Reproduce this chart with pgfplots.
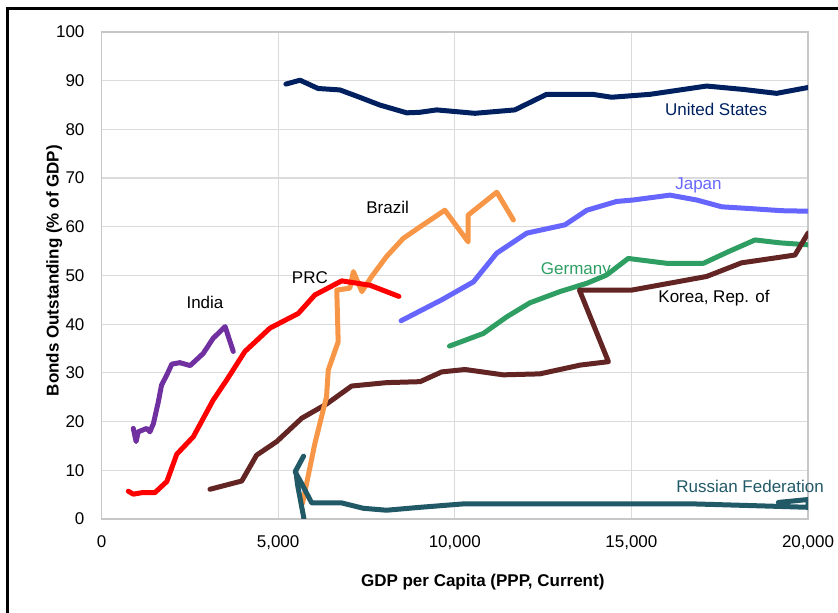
\documentclass[border=0pt]{standalone}
\usepackage{fontspec}
\setmainfont{Liberation Sans}
\usepackage{pgfplots}
\pgfplotsset{compat=1.18}

\definecolor{usblue}{RGB}{0,32,96}
\definecolor{japan}{RGB}{102,102,255}
\definecolor{germany}{RGB}{46,158,98}
\definecolor{korea}{RGB}{99,37,35}
\definecolor{brazil}{RGB}{247,150,70}
\definecolor{prc}{RGB}{255,0,0}
\definecolor{india}{RGB}{112,48,160}
\definecolor{russia}{RGB}{33,89,103}

\begin{document}
\begin{tikzpicture}
\begin{axis}[
  scale only axis, width=353.25pt, height=243.5pt,
  xmin=0, xmax=20000, ymin=0, ymax=100,
  xtick={0,5000,10000,15000,20000}, ytick={0,10,...,100},
  scaled x ticks=false,
  grid=major, grid style={draw=black!14, line width=0.6pt},
  axis line style={draw=black!22, line width=0.6pt},
  major tick length=0pt,
  tick label style={font=\fontsize{8.5}{10}\selectfont},
  /pgf/number format/assume math mode=true,
  /pgf/number format/1000 sep={,},
  xticklabel style={yshift=-5pt},
  yticklabel style={xshift=-5pt},
  xlabel={GDP per Capita (PPP, Current)},
  ylabel={Bonds Outstanding (\% of GDP)},
  label style={font=\fontsize{8.5}{10}\selectfont\bfseries},
  xlabel style={at={(axis description cs:0.5396,-0.1294)}, anchor=center},
  ylabel style={at={(axis description cs:-0.067,0.51)}, anchor=center},
  clip mode=individual,
  every axis plot/.append style={line width=2.5pt, line join=round, line cap=round, no markers},
]
% United States
\addplot[usblue] coordinates {
(5220,89.3) (5620,90.1) (6130,88.4) (6750,88.1) (7270,86.7) (7880,85.0)
(8640,83.4) (9000,83.5) (9490,84.0) (10570,83.3) (11700,84.0) (12600,87.2)
(13900,87.2) (14440,86.6) (15530,87.2) (16190,87.9) (17130,88.9) (18170,88.2)
(19110,87.4) (20000,88.6)};
% Japan
\addplot[japan] coordinates {
(8480,40.7) (9630,45.0) (10530,48.7) (11190,54.6) (12040,58.7) (13120,60.4)
(13740,63.4) (14580,65.2) (15050,65.5) (16090,66.5) (16850,65.5) (17560,64.1)
(18450,63.7) (19260,63.3) (20000,63.2)};
% Germany
\addplot[germany] coordinates {
(9850,35.5) (10810,38.1) (11470,41.5) (12130,44.4) (12980,46.7) (13740,48.4)
(14300,50.1) (14910,53.5) (16000,52.5) (17040,52.5) (17750,54.9) (18500,57.3)
(19210,56.7) (20000,56.3)};
% Korea
\addplot[korea] coordinates {
(3070,6.1) (3970,7.8) (4390,13.1) (4960,15.9) (5670,20.7) (6370,23.6)
(7080,27.3) (8070,28.0) (9020,28.2) (9630,30.2) (10290,30.7) (11370,29.6)
(12410,29.8) (13550,31.6) (14350,32.3) (13530,47.0) (15010,47.0) (17130,49.8)
(18120,52.6) (19630,54.2) (20000,58.7)};
% Brazil
\addplot[brazil] coordinates {
(5690,3.2) (6040,15.5) (6370,25.1) (6420,30.6) (6700,36.4) (6660,47.0)
(7030,47.4) (7130,50.8) (7370,46.7) (7650,49.8) (8070,53.9) (8540,57.6)
(9020,60.0) (9720,63.4) (10380,56.9) (10380,62.4) (11190,67.1) (11660,61.4)};
% PRC
\addplot[prc] coordinates {
(760,5.7) (900,5.1) (1140,5.4) (1510,5.4) (1850,7.7) (2130,13.3) (2600,16.9)
(3160,24.4) (3540,28.5) (4060,34.4) (4770,39.2) (5570,42.2) (6040,46.0)
(6800,48.9) (7600,48.0) (8420,45.7)};
% India
\addplot[india] coordinates {
(900,18.6) (980,15.9) (1040,17.9) (1280,18.6) (1370,17.9) (1470,19.6)
(1610,24.1) (1700,27.5) (1850,29.6) (1990,31.8) (2220,32.1) (2510,31.5)
(2880,34.0) (3160,37.1) (3500,39.5) (3730,34.4)};
% Russian Federation
\addplot[russia] coordinates {
(5730,0.1) (5550,7.0) (5500,9.9) (5720,12.9) (5480,9.7) (5650,7.5)
(5950,3.3) (6800,3.3) (7410,2.2) (8070,1.8) (9020,2.4) (10240,3.1)
(11850,3.1) (16750,3.1) (19110,2.6) (20000,2.4) (20000,4.0) (19160,3.4)};

\begin{scope}[font=\fontsize{8.5}{10}\selectfont]
\node[text=usblue] at (axis cs:17400,84) {United States};
\node[text=japan] at (axis cs:16900,68.4) {Japan};
\node[text=germany] at (axis cs:13430,51.1) {Germany};
\node at (axis cs:17340,45.4) {Korea, Rep. of};
\node at (axis cs:8100,63.9) {Brazil};
\node at (axis cs:5900,49.5) {PRC};
\node at (axis cs:2930,44.4) {India};
\node[text=russia] at (axis cs:18360,6.6) {Russian Federation};
\end{scope}
\end{axis}
\draw[line width=1.5pt] ([xshift=-47pt,yshift=-60pt]current axis.south west)
  -- ([xshift=-47pt,yshift=11.75pt]current axis.north west)
  -- ([xshift=30pt,yshift=11.75pt]current axis.north east);
\pgfresetboundingbox
\path[use as bounding box] ([xshift=-50.75pt,yshift=-47pt]current axis.south west)
  rectangle ([xshift=15pt,yshift=16pt]current axis.north east);
\end{tikzpicture}
\end{document}
